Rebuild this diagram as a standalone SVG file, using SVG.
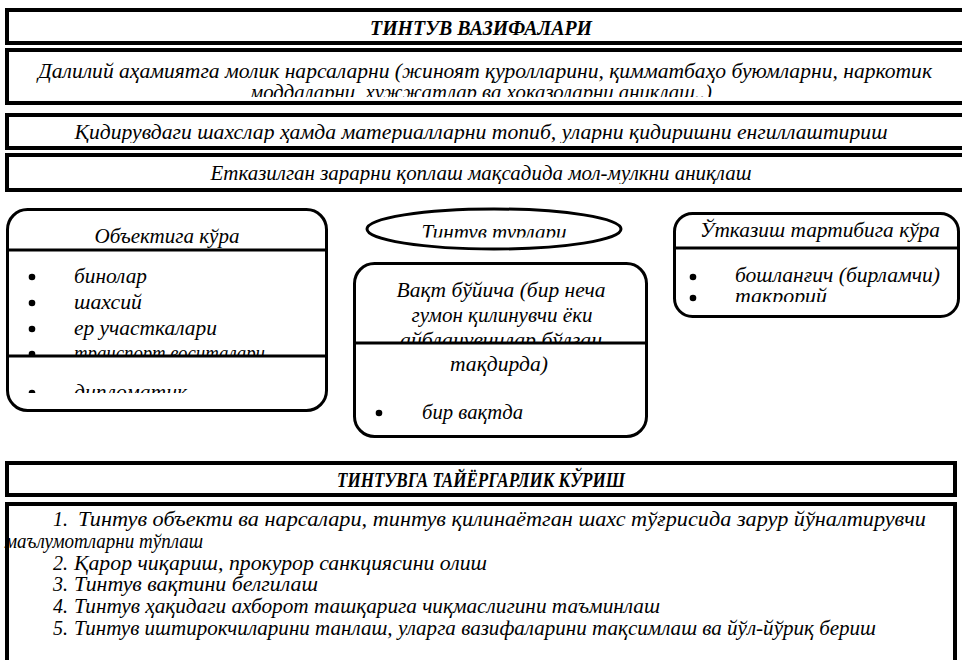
<svg xmlns="http://www.w3.org/2000/svg" width="962" height="660" viewBox="0 0 962 660">
<style>
.bx{fill:#fff;stroke:#000;stroke-width:4}
.rb{fill:#fff;stroke:#000;stroke-width:3}
.ln{stroke:#000;stroke-width:3}
.t{font-family:"Liberation Serif","Times New Roman",serif;font-style:italic;font-size:21px;fill:#000}
.s{font-size:20px}
.h{font-family:"Liberation Serif","Times New Roman",serif;font-style:italic;font-weight:bold;font-size:20px;fill:#000}
.c{text-anchor:middle}
</style>
<defs>
<clipPath id="cb2"><rect x="8" y="52" width="960" height="45"/></clipPath>
<clipPath id="cb3"><rect x="8" y="117" width="960" height="26"/></clipPath>
<clipPath id="cb4"><rect x="8" y="157" width="960" height="27"/></clipPath>
<clipPath id="cl1"><rect x="9" y="251" width="316" height="104"/></clipPath>
<clipPath id="cl2"><rect x="9" y="357" width="316" height="36"/></clipPath>
<clipPath id="ce"><rect x="360" y="208" width="270" height="29.5"/></clipPath>
<clipPath id="cm1"><rect x="356" y="265" width="289" height="77"/></clipPath>
<clipPath id="cr"><rect x="676" y="249" width="282" height="53"/></clipPath>
</defs>
<rect width="962" height="660" fill="#fff"/>
<g id="connectors"/>
<g id="title1">
<rect class="bx" x="7" y="10" width="1000" height="33"/>
<text class="h c" x="481" y="35" textLength="222" lengthAdjust="spacingAndGlyphs">ТИНТУВ ВАЗИФАЛАРИ</text>
</g>
<g id="task1">
<rect class="bx" x="7" y="50" width="1000" height="53"/>
<g clip-path="url(#cb2)">
<text class="t s c" x="485" y="78" textLength="894" lengthAdjust="spacingAndGlyphs">Далилий аҳамиятга молик нарсаларни (жиноят қуролларини, қимматбаҳо буюмларни, наркотик</text>
<text class="t s c" x="481" y="99" textLength="462" lengthAdjust="spacingAndGlyphs">моддаларни, ҳужжатлар ва ҳоказоларни аниқлаш..)</text>
</g>
</g>
<g id="task2">
<rect class="bx" x="7" y="115" width="1000" height="33"/>
<text class="t c" x="481" y="139" clip-path="url(#cb3)" textLength="813" lengthAdjust="spacingAndGlyphs">Қидирувдаги шахслар ҳамда материалларни топиб, уларни қидиришни енгиллаштириш</text>
</g>
<g id="task3">
<rect class="bx" x="7" y="155" width="1000" height="35"/>
<text class="t c" x="481" y="180" clip-path="url(#cb4)" textLength="541" lengthAdjust="spacingAndGlyphs">Етказилган зарарни қоплаш мақсадида мол-мулкни аниқлаш</text>
</g>
<g id="by-object">
<rect class="rb" x="7.5" y="209.5" width="319" height="201" rx="20"/>
<line class="ln" x1="7.5" y1="250" x2="326.5" y2="250"/>
<text class="t c" x="167" y="243" textLength="145" lengthAdjust="spacingAndGlyphs">Объектига кўра</text>
<g clip-path="url(#cl1)">
<circle cx="32" cy="277" r="3.3"/><text class="t" x="74" y="283" textLength="73" lengthAdjust="spacingAndGlyphs">бинолар</text>
<circle cx="32" cy="303" r="3.3"/><text class="t" x="74" y="309" textLength="68" lengthAdjust="spacingAndGlyphs">шахсий</text>
<circle cx="32" cy="329" r="3.3"/><text class="t" x="74" y="335" textLength="143" lengthAdjust="spacingAndGlyphs">ер участкалари</text>
<circle cx="32" cy="354" r="3.3"/><text class="t" x="74" y="360" textLength="191" lengthAdjust="spacingAndGlyphs">транспорт воситалари</text>
</g>
<line class="ln" x1="7.5" y1="356" x2="326.5" y2="356"/>
<g clip-path="url(#cl2)">
<circle cx="32" cy="393" r="3.3"/><text class="t" x="74" y="399" textLength="113" lengthAdjust="spacingAndGlyphs">дипломатик</text>
</g>
</g>
<g id="types">
<ellipse class="rb" cx="494" cy="229" rx="127" ry="20"/>
<text class="t c" x="494" y="239" clip-path="url(#ce)" textLength="145" lengthAdjust="spacingAndGlyphs">Тинтув турлари</text>
</g>
<g id="by-time">
<rect class="rb" x="354.5" y="263.5" width="292" height="173" rx="20"/>
<g clip-path="url(#cm1)">
<text class="t c" x="501" y="297" textLength="209" lengthAdjust="spacingAndGlyphs">Вақт бўйича (бир неча</text>
<text class="t c" x="502" y="322" textLength="181" lengthAdjust="spacingAndGlyphs">гумон қилинувчи ёки</text>
<text class="t c" x="501" y="347" textLength="202" lengthAdjust="spacingAndGlyphs">айбланувчилар бўлган</text>
</g>
<line class="ln" x1="354.5" y1="343" x2="646.5" y2="343"/>
<text class="t c" x="499" y="371" textLength="98" lengthAdjust="spacingAndGlyphs">тақдирда)</text>
<circle cx="379" cy="413" r="3.3"/><text class="t" x="422" y="419" textLength="101" lengthAdjust="spacingAndGlyphs">бир вақтда</text>
</g>
<g id="by-order">
<rect class="rb" x="674.5" y="213.5" width="284" height="103" rx="18"/>
<line class="ln" x1="674.5" y1="248" x2="958.5" y2="248"/>
<text class="t c" x="820" y="237" textLength="240" lengthAdjust="spacingAndGlyphs">Ўтказиш тартибига кўра</text>
<g clip-path="url(#cr)">
<circle cx="693" cy="277" r="3.3"/><text class="t s" x="735" y="282" textLength="205" lengthAdjust="spacingAndGlyphs">бошланғич (бирламчи)</text>
<circle cx="693" cy="298" r="3.3"/><text class="t s" x="735" y="303" textLength="92" lengthAdjust="spacingAndGlyphs">такрорий</text>
</g>
</g>
<g id="title2">
<rect class="bx" x="7" y="463" width="948" height="32"/>
<text class="h c" x="481" y="487" textLength="288" lengthAdjust="spacingAndGlyphs">ТИНТУВГА ТАЙЁРГАРЛИК КЎРИШ</text>
</g>
<g id="prep-list">
<rect class="bx" x="7" y="504" width="948" height="200"/>
<text class="t s" x="53" y="526">1.</text><text class="t s" x="78" y="526" textLength="848" lengthAdjust="spacingAndGlyphs">Тинтув объекти ва нарсалари, тинтув қилинаётган шахс тўғрисида зарур йўналтирувчи</text>
<text class="t s" x="5" y="548" textLength="198" lengthAdjust="spacingAndGlyphs">маълумотларни тўплаш</text>
<text class="t s" x="53" y="570">2.</text><text class="t s" x="74" y="570" textLength="413" lengthAdjust="spacingAndGlyphs">Қарор чиқариш, прокурор санкциясини олиш</text>
<text class="t s" x="53" y="591">3.</text><text class="t s" x="74" y="591" textLength="244" lengthAdjust="spacingAndGlyphs">Тинтув вақтини белгилаш</text>
<text class="t s" x="53" y="613">4.</text><text class="t s" x="74" y="613" textLength="586" lengthAdjust="spacingAndGlyphs">Тинтув ҳақидаги ахборот ташқарига чиқмаслигини таъминлаш</text>
<text class="t s" x="53" y="635">5.</text><text class="t s" x="74" y="635" textLength="802" lengthAdjust="spacingAndGlyphs">Тинтув иштирокчиларини танлаш, уларга вазифаларини тақсимлаш ва йўл-йўриқ бериш</text>
</g>
</svg>
